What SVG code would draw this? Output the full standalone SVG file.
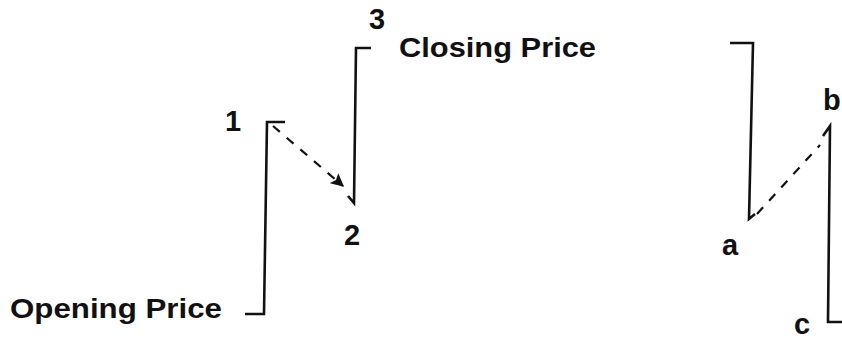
<svg xmlns="http://www.w3.org/2000/svg" width="842" height="340" viewBox="0 0 842 340">
<style>
.bar{fill:none;stroke:#111;stroke-width:2.6;stroke-linejoin:miter;stroke-linecap:butt}
.dash{fill:none;stroke:#111;stroke-width:2.2;stroke-dasharray:9 9}
.lbl{font-family:"Liberation Sans",Arial,sans-serif;font-weight:bold;font-size:27px;fill:#111}
.big{font-size:29px}
</style>
<defs>
<marker id="ah" viewBox="0 0 10 10" refX="9" refY="5" markerWidth="6" markerHeight="6" orient="auto" markerUnits="strokeWidth">
<path d="M0,0 L10,5 L0,10 L2,5 Z" fill="#111"/>
</marker>
</defs>
<rect width="842" height="340" fill="#fff"/>
<g id="bar1"><path class="bar" d="M285,122 L267,122 L264,314 L245,314"/></g>
<g id="bar2"><path class="bar" d="M371,48 L356,48 L354,203 L348,196"/></g>
<g id="barA"><path class="bar" d="M730,43 L753,43 L749,219 L755,214"/></g>
<g id="barB"><path class="bar" d="M823,136 L830,126 L828,322 L842,322"/></g>
<g id="connectors">
<path class="dash" d="M273,126 L343,186" marker-end="url(#ah)"/>
<path class="dash" d="M757,214 L820,145"/>
</g>
<g id="labels">
<text class="lbl big" x="225" y="131">1</text>
<text class="lbl big" x="344" y="245">2</text>
<text class="lbl big" x="369" y="29">3</text>
<text class="lbl" x="399" y="57" textLength="197" lengthAdjust="spacingAndGlyphs">Closing Price</text>
<text class="lbl" x="10" y="318" textLength="212" lengthAdjust="spacingAndGlyphs">Opening Price</text>
<text class="lbl big" x="722" y="255">a</text>
<text class="lbl big" x="823" y="110">b</text>
<text class="lbl big" x="794" y="334">c</text>
</g>
</svg>
